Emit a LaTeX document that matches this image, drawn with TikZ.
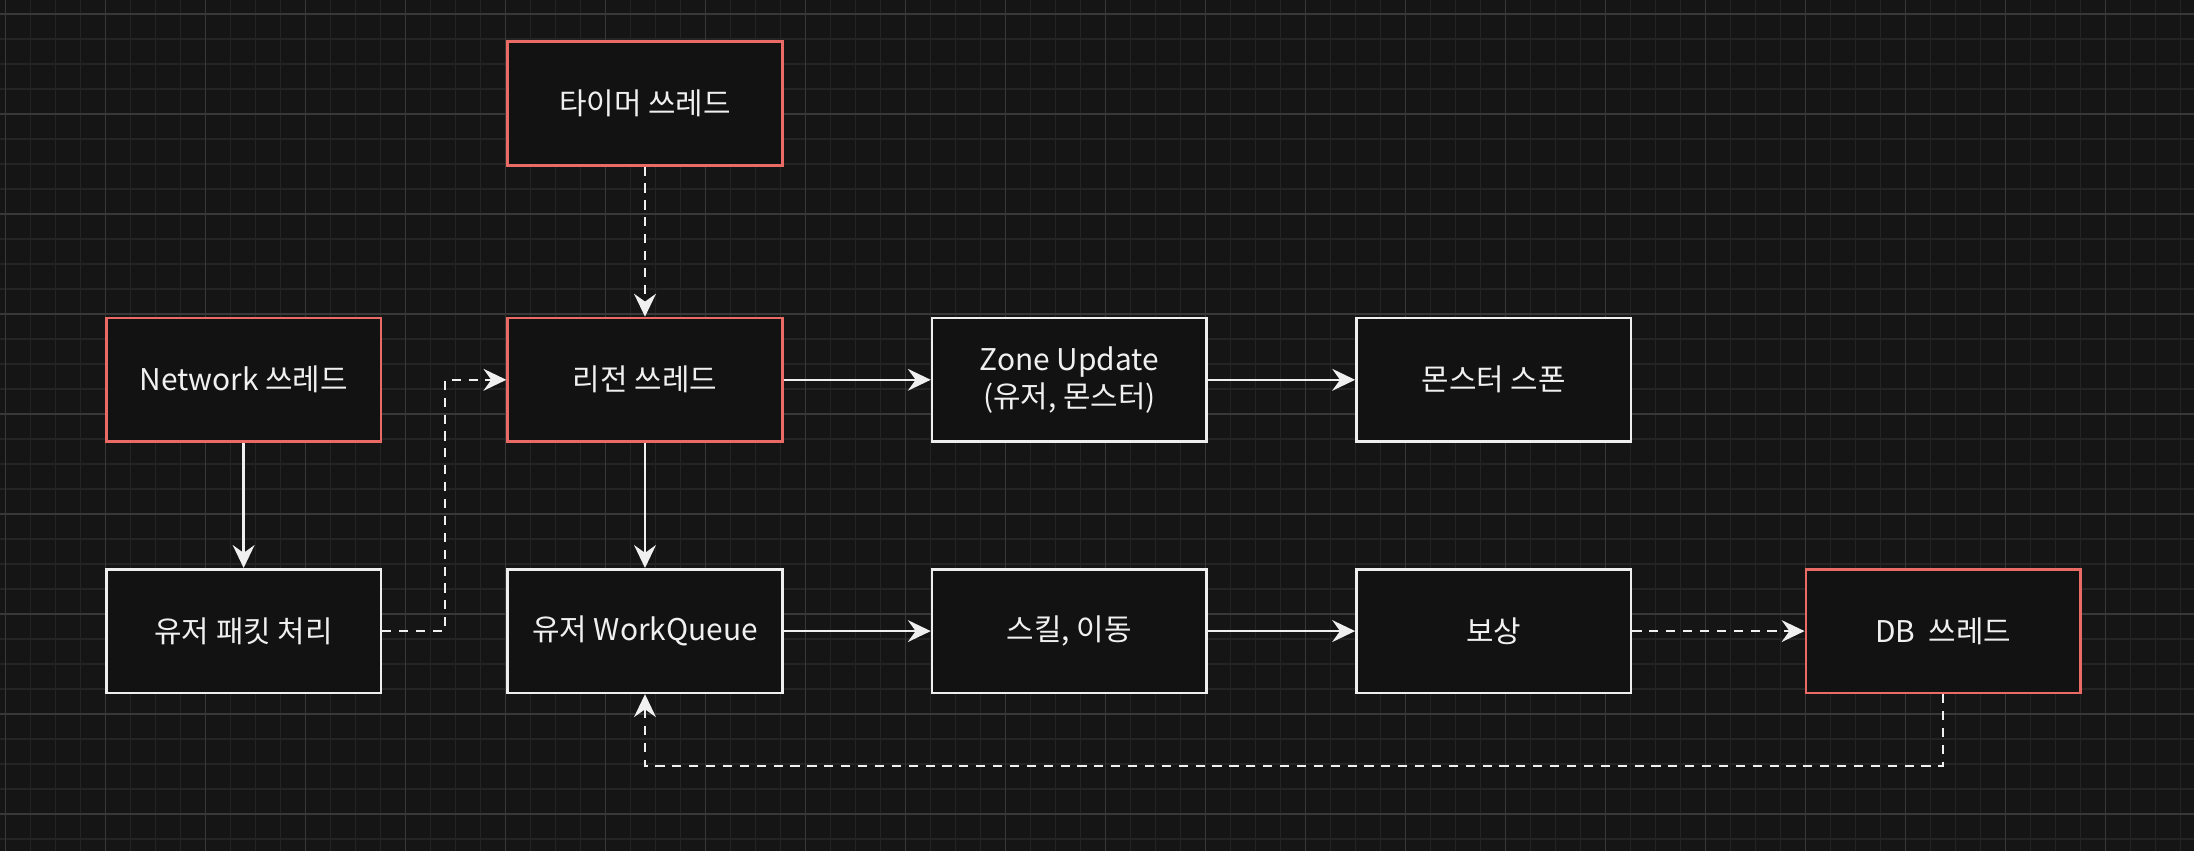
\documentclass[tikz,border=0pt]{standalone}
\usepackage{fontspec}
\setmainfont{Noto Sans CJK KR}
\usepackage{tikz}
\usetikzlibrary{arrows.meta,positioning}

\definecolor{bgcol}{HTML}{151515}
\definecolor{gridminor}{HTML}{242424}
\definecolor{gridmajor}{HTML}{383838}
\definecolor{boxfill}{HTML}{121212}
\definecolor{boxline}{HTML}{EEEEEE}
\definecolor{threadline}{HTML}{EA6B66}
\definecolor{textcol}{HTML}{F0F0F0}

\begin{document}
\begin{tikzpicture}[x=0.01cm, y=-0.01cm, >={Stealth[length=6.5pt, width=6.2pt, inset=2.2pt]}]
  \tikzstyle{box} = [draw=boxline, line width=0.75pt, fill=boxfill, rectangle, minimum height=1.235cm, minimum width=2.745cm, inner sep=0pt, text=textcol, align=center, font={\fontsize{8.5}{10.5}\selectfont}]
  \tikzstyle{thread} = [box, draw=threadline]

  \tikzstyle{flow} = [draw=textcol, line width=0.7pt, ->];
  \tikzstyle{signal} = [flow, dash pattern=on 2.6pt off 2.2pt];

  \fill[bgcol] (0,0) rectangle (2194,851);
  \useasboundingbox (0,0) rectangle (2194,851);
  \foreach \k in {0,...,87} \draw[gridminor, line width=0.4pt] ({5.7+25*\k},0) -- ({5.7+25*\k},851);
  \foreach \k in {0,...,33} \draw[gridminor, line width=0.4pt] (0,{14+25*\k}) -- (2194,{14+25*\k});
  \foreach \k in {0,...,21} \draw[gridmajor, line width=0.4pt] ({5.7+100*\k},0) -- ({5.7+100*\k},851);
  \foreach \k in {0,...,8} \draw[gridmajor, line width=0.4pt] (0,{14+100*\k}) -- (2194,{14+100*\k});

  \node[thread] (timer)   at (645,103.5)           {타이머 쓰레드};
  \node[thread] (region)  [below=1.5cm of timer]   {리전 쓰레드};
  \node[thread] (network) [left=1.24cm of region]  {Network 쓰레드};
  \node[box]    (zone)    [right=1.47cm of region] {Zone Update\\(유저, 몬스터)};
  \node[box]    (spawn)   [right=1.47cm of zone]   {몬스터 스폰};
  \node[box]    (queue)   [below=1.25cm of region] {유저 WorkQueue};
  \node[box]    (packet)  [left=1.24cm of queue]   {유저 패킷 처리};
  \node[box]    (skill)   [right=1.47cm of queue]  {스킬, 이동};
  \node[box]    (reward)  [right=1.47cm of skill]  {보상};
  \node[thread] (db)      [right=1.72cm of reward] {DB\ \ 쓰레드};

  \coordinate (jog) at (445,0);
  \coordinate (low) at (0,766);

  \draw[signal] (timer) -- (region);
  \draw[flow]   (network) -- (packet);
  \draw[signal] (packet.east) -- (packet.east -| jog) |- (region.west);
  \draw[flow]   (region) -- (zone);
  \draw[flow]   (zone) -- (spawn);
  \draw[flow]   (region) -- (queue);
  \draw[flow]   (queue) -- (skill);
  \draw[flow]   (skill) -- (reward);
  \draw[signal] (reward) -- (db);
  \draw[signal] (db.south) -- (db.south |- low) -| (queue.south);
\end{tikzpicture}
\end{document}
